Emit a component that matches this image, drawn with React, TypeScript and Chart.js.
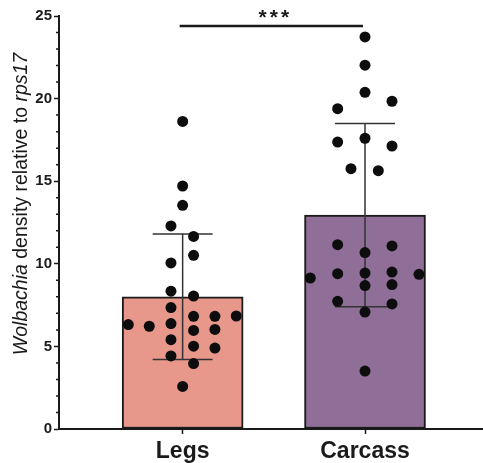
import React, { useEffect, useRef } from 'react';
import { Chart, registerables } from 'chart.js';

Chart.register(...registerables);

const categories = ['Legs', 'Carcass'];
const barMeans = [8.0, 12.95];
const barSD = [3.8, 5.55];
const barColors = ['#E8978B', '#8F6E98'];

const legsValues = [18.62, 14.71, 13.54, 12.29, 11.66, 10.51, 10.05, 8.34, 8.05, 7.35, 6.82, 6.82, 6.84, 6.32, 6.22, 6.38, 5.97, 6.03, 5.41, 5.01, 4.9, 4.42, 3.96, 2.58];
const legsOffsets = [0, 0, 0, -0.064, 0.06, 0.06, -0.064, -0.064, 0.06, -0.064, 0.06, 0.177, 0.294, -0.298, -0.183, -0.064, 0.06, 0.177, -0.064, 0.06, 0.177, -0.064, 0.06, 0];

const carcassValues = [23.73, 22.02, 20.38, 19.84, 19.39, 17.6, 17.37, 17.13, 15.76, 15.64, 11.16, 11.08, 10.68, 9.14, 9.4, 9.44, 9.5, 9.36, 8.68, 8.74, 7.73, 7.57, 7.08, 3.51];
const carcassOffsets = [0, 0, 0, 0.148, -0.15, 0, -0.15, 0.148, -0.077, 0.073, -0.15, 0.148, 0, -0.3, -0.15, 0, 0.148, 0.296, 0, 0.148, -0.15, 0.148, 0, 0];

const yMin = 0;
const yMax = 25;
const yMajorStep = 5;
const yMinorStep = 1;
const sigLevel = 24.4;
const sigLabel = '***';
const yTitleParts = [
  { text: 'Wolbachia', italic: true },
  { text: ' density relative to ', italic: false },
  { text: 'rps17', italic: true },
];

const FONT = '"Liberation Sans", Arial, Helvetica, sans-serif';
const INK = '#1a1a1a';

const errorBarPlugin = {
  id: 'errorBars',
  afterDatasetDraw(chart: any, args: any) {
    if (args.index !== 0) return;
    const { ctx, scales } = chart;
    const x = scales.x;
    const y = scales.y;
    ctx.save();
    ctx.strokeStyle = '#333';
    ctx.lineWidth = 1.5;
    barMeans.forEach((m, i) => {
      const cx = x.getPixelForValue(i);
      const top = y.getPixelForValue(m + barSD[i]);
      const bot = y.getPixelForValue(m - barSD[i]);
      const half = 30;
      ctx.beginPath();
      ctx.moveTo(cx, top);
      ctx.lineTo(cx, bot);
      ctx.moveTo(cx - half, top);
      ctx.lineTo(cx + half, top);
      ctx.moveTo(cx - half, bot);
      ctx.lineTo(cx + half, bot);
      ctx.stroke();
    });
    ctx.restore();
  },
};

const decorPlugin = {
  id: 'decor',
  afterDraw(chart: any) {
    const { ctx, scales, chartArea } = chart;
    const x = scales.x;
    const y = scales.y;
    ctx.save();
    // minor ticks
    ctx.strokeStyle = INK;
    ctx.lineWidth = 1.5;
    ctx.beginPath();
    for (let v = yMin; v <= yMax; v += yMinorStep) {
      if (v % yMajorStep === 0) continue;
      const py = y.getPixelForValue(v);
      ctx.moveTo(chartArea.left - 3, py);
      ctx.lineTo(chartArea.left, py);
    }
    ctx.stroke();

    // significance bar
    const sy = y.getPixelForValue(sigLevel);
    const x0 = x.getPixelForValue(0);
    const x1 = x.getPixelForValue(1);
    ctx.strokeStyle = INK;
    ctx.lineWidth = 2.5;
    ctx.beginPath();
    ctx.moveTo(x0 - 3, sy);
    ctx.lineTo(x1 - 2, sy);
    ctx.stroke();
    ctx.fillStyle = INK;
    ctx.font = `bold 21px ${FONT}`;
    ctx.textAlign = 'center';
    ctx.textBaseline = 'alphabetic';
    try { (ctx as any).letterSpacing = '3px'; } catch (e) {}
    ctx.fillText(sigLabel, (x0 + x1) / 2 + 1.5, sy - 2);
    try { (ctx as any).letterSpacing = '0px'; } catch (e) {}

    // y-axis title with mixed italics
    const fontFor = (italic: boolean) => `${italic ? 'italic ' : ''}19.5px ${FONT}`;
    let total = 0;
    const widths = yTitleParts.map((p) => {
      ctx.font = fontFor(p.italic);
      const w = ctx.measureText(p.text).width;
      total += w;
      return w;
    });
    ctx.translate(22, 204);
    ctx.rotate(-Math.PI / 2);
    ctx.textAlign = 'left';
    ctx.textBaseline = 'middle';
    let cx = -total / 2;
    yTitleParts.forEach((p, i) => {
      ctx.font = fontFor(p.italic);
      ctx.fillText(p.text, cx, 0);
      cx += widths[i];
    });
    ctx.restore();
  },
};

export default function App() {
  const canvasRef = useRef<HTMLCanvasElement | null>(null);

  useEffect(() => {
    const canvas = canvasRef.current;
    if (!canvas) return;
    const chart = new Chart(canvas, {
      type: 'bar',
      data: {
        datasets: [
          {
            type: 'bar',
            data: categories.map((_, i) => ({ x: i, y: barMeans[i] })) as any,
            backgroundColor: barColors,
            borderColor: INK,
            borderWidth: 2,
            borderSkipped: false,
            barThickness: 121,
            order: 1,
          } as any,
          {
            type: 'scatter',
            data: [
              ...legsValues.map((v, i) => ({ x: 0 + legsOffsets[i], y: v })),
              ...carcassValues.map((v, i) => ({ x: 1 + carcassOffsets[i], y: v })),
            ],
            backgroundColor: '#0d0d0d',
            borderWidth: 0,
            pointRadius: 5.5,
            pointHoverRadius: 5.5,
            order: 0,
          } as any,
        ],
      },
      options: {
        responsive: false,
        animation: false,
        layout: { autoPadding: false, padding: { top: 16, right: 0, left: 0, bottom: 0 } },
        plugins: {
          legend: { display: false },
          tooltip: { enabled: false },
        },
        scales: {
          x: {
            type: 'linear',
            min: -0.678,
            max: 1.647,
            offset: false,
            afterBuildTicks: (scale: any) => {
              scale.ticks = categories.map((_, i) => ({ value: i }));
            },
            afterFit: (scale: any) => {
              scale.height = 34;
              scale.paddingLeft = 0;
              scale.paddingRight = 0;
            },
            grid: {
              display: true,
              offset: false,
              drawOnChartArea: false,
              drawTicks: true,
              tickLength: 5,
              tickWidth: 1.5,
              tickColor: INK,
            },
            border: { display: true, color: INK, width: 2 },
            ticks: {
              autoSkip: false,
              maxRotation: 0,
              padding: 4,
              color: INK,
              font: { family: FONT, size: 23, weight: 'bold' },
              callback: (v: any) => categories[Math.round(Number(v))] ?? '',
            },
          } as any,
          y: {
            type: 'linear',
            min: yMin,
            max: yMax,
            afterFit: (scale: any) => {
              scale.width = 59;
            },
            grid: {
              display: true,
              drawOnChartArea: false,
              drawTicks: true,
              tickLength: 5,
              tickWidth: 1.5,
              tickColor: INK,
            },
            border: { display: true, color: INK, width: 2 },
            ticks: {
              stepSize: yMajorStep,
              padding: 2,
              color: INK,
              font: { family: FONT, size: 15, weight: 'bold' },
            },
          } as any,
        },
      },
      plugins: [errorBarPlugin, decorPlugin],
    });
    return () => chart.destroy();
  }, []);

  return (
    <div style={{ position: 'fixed', left: 0, top: 0, width: 483, height: 463, background: '#fff' }}>
      <canvas ref={canvasRef} width={483} height={463} style={{ display: 'block' }} />
    </div>
  );
}
